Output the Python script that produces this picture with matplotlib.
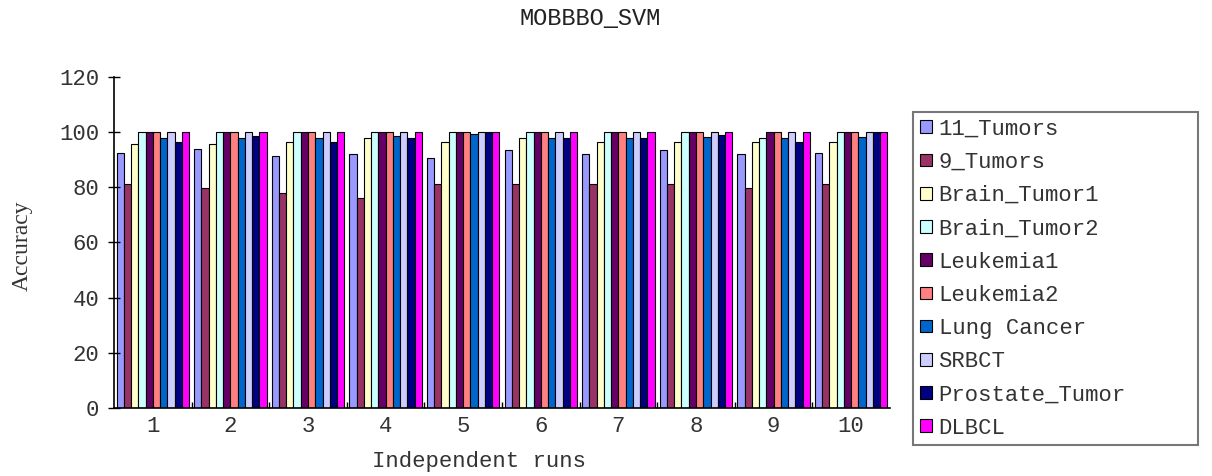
import numpy as np
import matplotlib
matplotlib.use("Agg")
import matplotlib.pyplot as plt

runs = ["1", "2", "3", "4", "5", "6", "7", "8", "9", "10"]
datasets = ["11_Tumors", "9_Tumors", "Brain_Tumor1", "Brain_Tumor2", "Leukemia1",
            "Leukemia2", "Lung Cancer", "SRBCT", "Prostate_Tumor", "DLBCL"]
colors = ["#9999FF", "#993366", "#FFFFCC", "#CCFFFF", "#660066",
          "#FF8080", "#0066CC", "#CCCCFF", "#000080", "#FF00FF"]

# accuracy per dataset, one value per independent run
tumors11 = [92.6, 93.9, 91.5, 92.1, 90.5, 93.6, 92.1, 93.6, 92.1, 92.6]
tumors9 = [81.2, 79.8, 77.8, 76.2, 81.4, 81.4, 81.4, 81.4, 79.6, 81.4]
brain1 = [95.6, 95.6, 96.6, 97.8, 96.6, 97.8, 96.4, 96.4, 96.4, 96.4]
brain2 = [100, 100, 100, 100, 100, 100, 100, 100, 97.8, 100]
leuk1 = [100, 100, 100, 100, 100, 100, 100, 100, 100, 100]
leuk2 = [100, 100, 100, 100, 100, 100, 100, 100, 100, 100]
lung = [98.0, 98.0, 98.0, 98.8, 99.3, 98.0, 98.0, 98.4, 98.0, 98.4]
srbct = [100, 100, 100, 100, 100, 100, 100, 100, 100, 100]
prostate = [96.6, 98.5, 96.6, 97.8, 100, 97.8, 97.8, 99.0, 96.6, 100]
dlbcl = [100, 100, 100, 100, 100, 100, 100, 100, 100, 100]

series = [tumors11, tumors9, brain1, brain2, leuk1, leuk2, lung, srbct, prostate, dlbcl]

mono = "Liberation Mono"

fig = plt.figure(figsize=(12.12, 4.76), dpi=100)
ax = fig.add_axes([114 / 1212, 1 - 407.7 / 476, 776 / 1212, 330.5 / 476])

x = np.arange(1, len(runs) + 1)
group_w = 0.935
w = group_w / len(series)
for i, (vals, name, c) in enumerate(zip(series, datasets, colors)):
    ax.bar(x - group_w / 2 + w * (i + 0.5), vals, w, color=c, edgecolor="black",
           linewidth=0.8, label=name)

ax.set_xlim(0.5, 10.5)
ax.set_ylim(0, 120)
ax.set_yticks(range(0, 121, 20))
ax.set_xticks(x)
ax.set_xticklabels(runs)
ax.set_xticks(np.arange(1.5, 10.5, 1), minor=True)
ax.tick_params(axis="x", which="major", length=0, pad=6, labelsize=16)
ax.tick_params(axis="x", which="minor", direction="in", length=4, width=1)
ax.tick_params(axis="y", direction="inout", length=9, width=1, pad=6, labelsize=16)
for lab in ax.get_xticklabels() + ax.get_yticklabels():
    lab.set_fontfamily(mono)
    lab.set_color("#333333")

ax.spines["top"].set_visible(False)
ax.spines["right"].set_visible(False)
ax.spines["left"].set_linewidth(1.2)
ax.spines["bottom"].set_linewidth(1.2)

fig.text(0.487, 1 - 18.5 / 476, "MOBBBO_SVM", ha="center", va="center",
         fontfamily=mono, fontsize=17, color="#222222")
fig.text(0.395, 1 - 462 / 476, "Independent runs", ha="center", va="center",
         fontfamily=mono, fontsize=16, color="#333333")
fig.text(22 / 1212, 1 - 246 / 476, "Accuracy", ha="center", va="center",
         rotation=90, fontfamily="Liberation Serif", fontsize=17, color="#333333")

leg = ax.legend(loc="upper left", bbox_to_anchor=(913 / 1212, 1 - 112 / 476, 285 / 1212, 0),
                bbox_transform=fig.transFigure, mode="expand", ncol=1,
                prop={"family": mono, "size": 16}, frameon=True, fancybox=False,
                edgecolor="#555555", handlelength=0.55, handleheight=0.5,
                handletextpad=0.3, labelspacing=0.55, borderpad=0.3,
                borderaxespad=0)
leg.get_frame().set_linewidth(1.5)
for t in leg.get_texts():
    t.set_color("#333333")

fig.savefig("out.png", dpi=100)
